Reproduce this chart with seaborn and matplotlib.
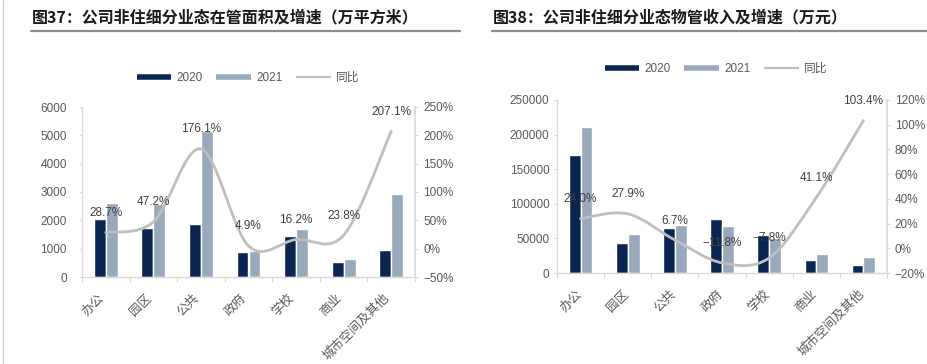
import numpy as np
import pandas as pd
import matplotlib
matplotlib.use('Agg')
import matplotlib.pyplot as plt
import seaborn as sns
from matplotlib.path import Path
from matplotlib.patches import PathPatch
from matplotlib.lines import Line2D
from matplotlib.transforms import ScaledTranslation

# ---------------- data ----------------
categories = ['办公', '园区', '公共', '政府', '学校', '商业', '城市空间及其他']
years = ['2020', '2021']

area_2020 = [2030, 1740, 1870, 890, 1455, 520, 950]
area_2021 = [2613, 2561, 5163, 934, 1691, 644, 2917]
area_yoy = [28.7, 47.2, 176.1, 4.9, 16.2, 23.8, 207.1]

income_2020 = [170000, 44000, 64500, 77500, 54500, 19500, 11300]
income_2021 = [210800, 56300, 68800, 68400, 50250, 27500, 23000]
income_yoy = [24.0, 27.9, 6.7, -11.8, -7.8, 41.1, 103.4]

title_left = '图37：公司非住细分业态在管面积及增速（万平方米）'
title_right = '图38：公司非住细分业态物管收入及增速（万元）'
left_yticks = [0, 1000, 2000, 3000, 4000, 5000, 6000]
left_rticks = [-50, 0, 50, 100, 150, 200, 250]
right_yticks = [0, 50000, 100000, 150000, 200000, 250000]
right_rticks = [-20, 0, 20, 40, 60, 80, 100, 120]

# ---------------- style ----------------
sns.set_theme(style='white')
plt.rcParams['font.family'] = ['Liberation Sans', 'Noto Sans CJK SC', 'DejaVu Sans']
plt.rcParams['axes.unicode_minus'] = True

DARK = '#0A2650'
LIGHT = '#98A9BC'
LINE = '#BFBFBF'
TICKC = '#595959'
SPINE = '#D9D9D9'
LABELC = '#404040'

W, H = 927, 364
fig = plt.figure(figsize=(W / 100, H / 100), dpi=100)
fig.patch.set_facecolor('white')


def px_axes(x0, y0, x1, y1):
    return fig.add_axes([x0 / W, 1 - y1 / H, (x1 - x0) / W, (y1 - y0) / H])


def smooth_path(xs, ys):
    pts = np.column_stack([xs, ys]).astype(float)
    n = len(pts)
    verts = [pts[0]]
    codes = [Path.MOVETO]
    for i in range(n - 1):
        p0 = pts[i - 1] if i > 0 else pts[i]
        p1 = pts[i]
        p2 = pts[i + 1]
        p3 = pts[i + 2] if i + 2 < n else pts[i + 1]
        c1 = p1 + (p2 - p0) / 6.0
        c2 = p2 - (p3 - p1) / 6.0
        verts += [c1, c2, p2]
        codes += [Path.CURVE4] * 3
    return Path(verts, codes)


def fmt_pct(v):
    s = f'{abs(v):.1f}%'
    return ('\u2212' + s) if v < 0 else s


def panel(box, v20, v21, yoy, yticks, rticks, lpad, rpad, xshift, xpad,
          title, title_x, line_x1, legend_xy):
    ax = px_axes(*box)
    df = pd.DataFrame({
        'cat': categories * 2,
        'val': list(v20) + list(v21),
        'year': [years[0]] * len(categories) + [years[1]] * len(categories),
    })
    sns.barplot(data=df, x='cat', y='val', hue='year', palette=[DARK, LIGHT],
                width=0.5, saturation=1, ax=ax, legend=False, errorbar=None)
    ax.set_xlim(-0.5, len(categories) - 0.5)
    ax.set_ylim(yticks[0], yticks[-1])
    ax.set_yticks(yticks)
    ax.set_yticklabels([str(t) for t in yticks])
    ax.set_xlabel('')
    ax.set_ylabel('')
    for s in ['top', 'right']:
        ax.spines[s].set_visible(False)
    ax.spines['left'].set_color(SPINE)
    ax.spines['bottom'].set_color(SPINE)
    ax.spines['left'].set_linewidth(1.0)
    ax.spines['bottom'].set_linewidth(1.0)
    ax.tick_params(axis='y', left=True, length=2.5, width=0.8, color=SPINE,
                   labelcolor=TICKC, labelsize=8.5, pad=lpad)
    ax.set_xticks(range(len(categories)))
    ax.set_xticks(np.arange(-0.5, len(categories), 1.0), minor=True)
    ax.tick_params(axis='x', which='major', length=0, pad=xpad,
                   labelcolor=TICKC, labelsize=9)
    ax.tick_params(axis='x', which='minor', bottom=True, length=3.5,
                   width=0.8, color=SPINE)
    ax.set_xticklabels(categories, rotation=45, ha='right', va='center',
                       rotation_mode='anchor')
    off = ScaledTranslation(xshift / 100, 0, fig.dpi_scale_trans)
    for lab in ax.get_xticklabels():
        lab.set_transform(lab.get_transform() + off)

    ax2 = ax.twinx()
    ax2.set_ylim(rticks[0], rticks[-1])
    ax2.set_yticks(rticks)
    ax2.set_yticklabels([fmt_pct(t).replace('.0', '') for t in rticks])
    for s in ['top', 'left', 'bottom']:
        ax2.spines[s].set_visible(False)
    ax2.spines['right'].set_color(SPINE)
    ax2.tick_params(axis='y', right=True, length=2.5, width=0.8, color=SPINE,
                    labelcolor=TICKC, labelsize=8.5, pad=rpad)
    ax2.grid(False)
    ax.grid(False)

    xs = np.arange(len(categories))
    patch = PathPatch(smooth_path(xs, yoy), facecolor='none', edgecolor=LINE,
                      lw=2.0, transform=ax2.transData, capstyle='round',
                      joinstyle='round', zorder=3)
    ax2.add_patch(patch)
    for x, v in zip(xs, yoy):
        ax2.annotate(fmt_pct(v), (x, v), xytext=(0, 14), textcoords='offset points',
                     ha='center', va='center', fontsize=8.5, color=LABELC, zorder=4)

    # title + underline
    fig.text(title_x / W, 1 - 17 / H, title, fontsize=11.5, fontweight='bold',
             family=['Noto Sans CJK SC', 'Liberation Sans'], color='#1A1A1A',
             ha='left', va='center')
    fig.add_artist(Line2D([(title_x - 1) / W, line_x1 / W], [1 - 31 / H] * 2,
                          color='#8C8C8C', lw=1.6, transform=fig.transFigure))

    handles = [Line2D([], [], color=DARK, lw=4, solid_capstyle='butt'),
               Line2D([], [], color=LIGHT, lw=4, solid_capstyle='butt'),
               Line2D([], [], color=LINE, lw=1.6, solid_capstyle='butt')]
    fig.legend(handles, years + ['同比'], loc='center',
               bbox_to_anchor=(legend_xy[0] / W, 1 - legend_xy[1] / H),
               ncol=3, frameon=False, fontsize=8.5, labelcolor=TICKC,
               handlelength=2.9, handletextpad=0.45, columnspacing=1.2,
               borderaxespad=0, borderpad=0)
    return ax, ax2


panel((82, 107, 415, 277), area_2020, area_2021, area_yoy,
      left_yticks, left_rticks, lpad=8.5, rpad=3.5, xshift=-4, xpad=14,
      title=title_left, title_x=32, line_x1=460, legend_xy=(248, 78))
panel((557, 100, 887, 273), income_2020, income_2021, income_yoy,
      right_yticks, right_rticks, lpad=3, rpad=3, xshift=-1, xpad=14,
      title=title_right, title_x=493, line_x1=927, legend_xy=(716, 69))

# thin page border on the left
fig.add_artist(Line2D([2.5 / W, 2.5 / W], [0, 1], color='#D0D0D0', lw=1.0,
                      transform=fig.transFigure))

fig.savefig('out.png', dpi=100, facecolor='white')
